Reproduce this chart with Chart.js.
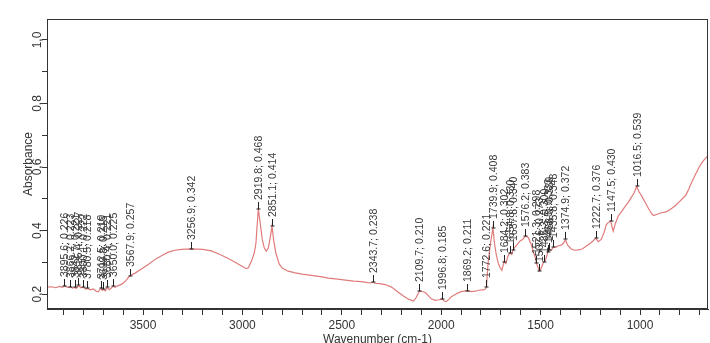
<!DOCTYPE html>
<html>
<head>
<meta charset="utf-8">
<script src="https://cdn.jsdelivr.net/npm/chart.js@4/dist/chart.umd.min.js"></script>
<style>
  html, body { margin: 0; padding: 0; background: #fff; }
</style>
</head>
<body>
<canvas id="irChart" width="710" height="343"></canvas>
<script>
// spectrum (wavenumber in cm-1, absorbance)
const wavenumbers = [
  3983, 3960, 3940, 3920, 3905, 3895.6, 3880, 3866.2, 3855, 3842.7, 3835, 3825.4, 3812, 3800.1, 3790,
  3780.5, 3765, 3750, 3735, 3725, 3712.5, 3705, 3699.8, 3690, 3680.4, 3670, 3660, 3650.0, 3640, 3628,
  3615, 3600, 3585, 3567.9, 3540, 3508, 3470, 3438, 3400, 3373, 3340, 3307, 3256.9, 3200, 3156,
  3110, 3071, 3030, 3000, 2980, 2970, 2955, 2940, 2932, 2926, 2919.8, 2912, 2900, 2890, 2880,
  2870, 2860, 2851.1, 2843, 2832, 2815, 2800, 2770, 2734, 2700, 2653, 2600, 2568, 2520, 2482,
  2440, 2402, 2370, 2355, 2343.7, 2335, 2310, 2281, 2250, 2216, 2190, 2165, 2140, 2125, 2109.7,
  2095, 2080, 2065, 2050, 2030, 2010, 1996.8, 1985, 1975, 1960, 1949, 1925, 1904, 1885, 1869.2,
  1850, 1829, 1810, 1789, 1780, 1772.6, 1764, 1752, 1739.9, 1732, 1723, 1712, 1703, 1695, 1684.2,
  1675, 1665, 1654.8, 1645, 1637.8, 1622, 1602, 1590, 1576.2, 1562, 1547, 1535, 1527, 1521.3, 1514,
  1507.6, 1502, 1495, 1485.3, 1477, 1470, 1463.5, 1456.0, 1447, 1435.8, 1422, 1410, 1397, 1385, 1374.9,
  1365, 1346, 1330, 1310, 1290, 1275, 1250, 1235, 1222.7, 1210, 1195, 1180, 1170, 1160, 1147.5,
  1140, 1135, 1125, 1110, 1090, 1074, 1060, 1049, 1030, 1016.5, 1005, 992, 975, 956, 940,
  931, 910, 891, 870, 856, 840, 821, 800, 770, 755, 740, 720, 705, 685, 670, 658
];
const absorbance = [
  0.222, 0.223, 0.220, 0.224, 0.221, 0.226, 0.221, 0.223, 0.219, 0.221, 0.218, 0.227, 0.220, 0.222, 0.216,
  0.218, 0.213, 0.216, 0.209, 0.207, 0.219, 0.212, 0.215, 0.210, 0.221, 0.214, 0.219, 0.225, 0.221, 0.226,
  0.229, 0.234, 0.243, 0.257, 0.266, 0.279, 0.295, 0.310, 0.323, 0.332, 0.338, 0.341, 0.342, 0.341, 0.336,
  0.324, 0.312, 0.298, 0.287, 0.280, 0.283, 0.303, 0.330, 0.360, 0.415, 0.468, 0.430, 0.372, 0.345, 0.335,
  0.345, 0.378, 0.414, 0.370, 0.330, 0.295, 0.282, 0.272, 0.267, 0.263, 0.259, 0.254, 0.250, 0.247, 0.244,
  0.241, 0.239, 0.236, 0.235, 0.238, 0.234, 0.233, 0.230, 0.222, 0.206, 0.194, 0.184, 0.178, 0.190, 0.210,
  0.208, 0.205, 0.195, 0.185, 0.180, 0.182, 0.185, 0.178, 0.176, 0.184, 0.192, 0.200, 0.207, 0.209, 0.211,
  0.208, 0.209, 0.212, 0.213, 0.215, 0.221, 0.300, 0.360, 0.408, 0.360, 0.323, 0.295, 0.282, 0.275, 0.302,
  0.296, 0.318, 0.330, 0.325, 0.340, 0.353, 0.368, 0.372, 0.383, 0.378, 0.356, 0.330, 0.316, 0.298, 0.285,
  0.273, 0.275, 0.285, 0.300, 0.306, 0.318, 0.333, 0.339, 0.338, 0.348, 0.348, 0.352, 0.354, 0.360, 0.372,
  0.355, 0.342, 0.338, 0.339, 0.342, 0.349, 0.360, 0.368, 0.376, 0.365, 0.372, 0.395, 0.418, 0.425, 0.430,
  0.410, 0.398, 0.420, 0.445, 0.462, 0.477, 0.488, 0.499, 0.518, 0.539, 0.522, 0.509, 0.490, 0.468, 0.452,
  0.447, 0.452, 0.456, 0.459, 0.463, 0.470, 0.479, 0.492, 0.511, 0.530, 0.552, 0.578, 0.597, 0.617, 0.628, 0.636
];

// picked peaks (labelled on the plot)
const peakWavenumbers = [
  3895.6, 3866.2, 3842.7, 3825.4, 3800.1, 3780.5, 3712.5, 3699.8, 3680.4, 3650.0, 3567.9,
  3256.9, 2919.8, 2851.1, 2343.7, 2109.7, 1996.8, 1869.2, 1772.6, 1739.9, 1684.2, 1654.8,
  1637.8, 1576.2, 1521.3, 1507.6, 1485.3, 1463.5, 1456.0, 1435.8, 1374.9, 1222.7, 1147.5, 1016.5
];
const peakAbsorbance = [
  0.226, 0.223, 0.221, 0.227, 0.222, 0.218, 0.219, 0.215, 0.221, 0.225, 0.257,
  0.342, 0.468, 0.414, 0.238, 0.210, 0.185, 0.211, 0.221, 0.408, 0.302, 0.330,
  0.340, 0.383, 0.298, 0.273, 0.300, 0.333, 0.339, 0.348, 0.372, 0.376, 0.430, 0.539
];

const xMajorTicks = [3500, 3000, 2500, 2000, 1500, 1000];
const yMajorTicks = [0.2, 0.4, 0.6, 0.8, 1.0];

const FONT = '"Liberation Sans", Arial, sans-serif';
const AXIS_COLOR = '#333';

// frame round the plot area
const framePlugin = {
  id: 'frame',
  afterDraw(chart) {
    const { ctx, chartArea: a } = chart;
    ctx.save();
    ctx.strokeStyle = AXIS_COLOR;
    ctx.lineWidth = 1;
    ctx.strokeRect(Math.round(a.left) + 0.5, Math.round(a.top) + 0.5,
      Math.round(a.right - a.left) - 1, Math.round(a.bottom - a.top) - 1);
    ctx.restore();
  }
};

// y tick labels are drawn turned, like the instrument printout
const yLabelPlugin = {
  id: 'yLabels',
  afterDraw(chart) {
    const { ctx, scales: { y } } = chart;
    ctx.save();
    ctx.fillStyle = AXIS_COLOR;
    ctx.font = '12px ' + FONT;
    ctx.textAlign = 'center';
    ctx.textBaseline = 'middle';
    yMajorTicks.forEach(v => {
      ctx.save();
      ctx.translate(38, y.getPixelForValue(v));
      ctx.rotate(-Math.PI / 2);
      ctx.fillText(v.toFixed(1).replace('.', ','), 0, 0);
      ctx.restore();
    });
    ctx.restore();
  }
};

// peak markers with their vertical labels
const peakPlugin = {
  id: 'peaks',
  afterDatasetsDraw(chart) {
    const { ctx, scales: { x, y } } = chart;
    ctx.save();
    ctx.strokeStyle = '#222';
    ctx.fillStyle = '#3a3a3a';
    ctx.lineWidth = 1;
    ctx.font = '10.5px ' + FONT;
    ctx.textAlign = 'left';
    ctx.textBaseline = 'middle';
    peakWavenumbers.forEach((w, i) => {
      const px = Math.round(x.getPixelForValue(w)) + 0.5;
      const py = Math.round(y.getPixelForValue(peakAbsorbance[i]));
      ctx.beginPath();
      ctx.moveTo(px - 2, py);
      ctx.lineTo(px + 2, py);
      ctx.moveTo(px, py);
      ctx.lineTo(px, py - 7);
      ctx.stroke();
      ctx.save();
      ctx.translate(px + 1, py - 9);
      ctx.rotate(-Math.PI / 2);
      ctx.fillText(w.toFixed(1) + '; ' + peakAbsorbance[i].toFixed(3), 0, 0);
      ctx.restore();
    });
    ctx.restore();
  }
};

const xTickValues = [];
for (let v = 700; v <= 3900; v += 100) xTickValues.push(v);
const yTickValues = [];
for (let v = 2; v <= 10; v++) yTickValues.push(v / 10);

const ctx = document.getElementById('irChart').getContext('2d');
new Chart(ctx, {
  type: 'line',
  data: {
    datasets: [{
      data: wavenumbers.map((w, i) => ({ x: w, y: absorbance[i] })),
      borderColor: '#e07b7b',
      borderWidth: 1.2,
      pointRadius: 0,
      tension: 0,
      fill: false
    }]
  },
  options: {
    responsive: false,
    animation: false,
    layout: { padding: { top: 19, right: 2, left: 0, bottom: 0 } },
    plugins: {
      legend: { display: false },
      tooltip: { enabled: false }
    },
    scales: {
      x: {
        type: 'linear',
        reverse: true,
        min: 658,
        max: 3983,
        afterBuildTicks: s => { s.ticks = xTickValues.map(v => ({ value: v })); },
        afterFit: s => { s.height = 34; },
        ticks: {
          autoSkip: false,
          maxRotation: 0,
          padding: 3,
          color: AXIS_COLOR,
          font: { size: 12, family: FONT },
          callback: v => xMajorTicks.includes(v) ? String(v) : ''
        },
        grid: { drawOnChartArea: false, tickLength: 6, color: AXIS_COLOR },
        border: { color: AXIS_COLOR },
        title: {
          display: true,
          text: 'Wavenumber (cm-1)',
          color: AXIS_COLOR,
          font: { size: 12, family: FONT },
          padding: { top: 0, bottom: -4 }
        }
      },
      y: {
        min: 0.153,
        max: 1.066,
        afterBuildTicks: s => { s.ticks = yTickValues.map(v => ({ value: v })); },
        afterFit: s => { s.width = 47; },
        ticks: { display: false },
        grid: { drawOnChartArea: false, tickLength: 5, color: AXIS_COLOR },
        border: { color: AXIS_COLOR },
        title: {
          display: true,
          text: 'Absorbance',
          color: AXIS_COLOR,
          font: { size: 12, family: FONT },
          padding: { top: 21, bottom: 0 }
        }
      }
    }
  },
  plugins: [framePlugin, yLabelPlugin, peakPlugin]
});
</script>
</body>
</html>
